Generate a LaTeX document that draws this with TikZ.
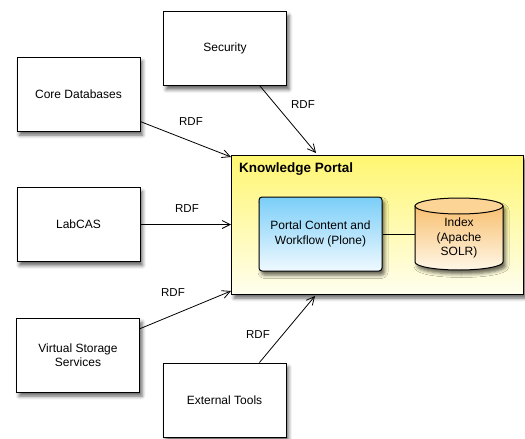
\documentclass[tikz,border=0pt]{standalone}
\usepackage{fontspec}
\setmainfont{Liberation Sans}
\usetikzlibrary{arrows.meta,shadows.blur}

\definecolor{portalhi}{RGB}{255,246,112}
\definecolor{portallo}{RGB}{255,254,238}
\definecolor{plonehi}{RGB}{122,206,248}
\definecolor{plonelo}{RGB}{240,249,255}
\definecolor{indexhi}{RGB}{248,192,112}
\definecolor{indexlo}{RGB}{255,247,232}
\definecolor{indexcap}{RGB}{251,212,150}

\tikzset{
  lbl/.style={font=\fontsize{12}{14.5}\selectfont, align=center},
  rdf/.style={font=\fontsize{11.5}{13}\selectfont, inner sep=0pt},
  dropshadow/.style={blur shadow={shadow xshift=2.5pt, shadow yshift=-4pt,
      shadow blur radius=3.5pt, shadow opacity=60}},
  sysbox/.style={draw=black, line width=1pt, fill=white, lbl,
      minimum width=123pt, minimum height=74pt, inner sep=0pt, dropshadow},
  feed/.style={draw=black, line width=0.8pt,
      -{Straight Barb[length=8pt, width=8pt, line width=0.8pt]}},
  % vertical gradient: first colour at the upper edge, second at the lower
  vgrad/.style 2 args={top color=#1, bottom color=#2},
}

\begin{document}
\begin{tikzpicture}[x=1pt, y=1pt]
\useasboundingbox (0,0) rectangle (525,-439);

% portal container: shadow first, then the shaded frame
\path[dropshadow] (231.5,-155) rectangle (523.5,-294);
\node[draw=black, line width=1pt, minimum width=292pt, minimum height=139pt,
      inner sep=0pt, vgrad={portalhi}{portallo}]
      (kp) at (377.5,-224.5) {};
\node[anchor=west, font=\fontsize{13.5}{15}\selectfont\bfseries, inner sep=0pt]
      (kptitle) at (239,-169) {Knowledge Portal};

% outer systems
\node[sysbox] (sec)  at (225,-48.5)  {Security};
\node[sysbox] (core) at (78.5,-94)   {Core Databases};
\node[sysbox] (lab)  at (78.5,-224.5){LabCAS};
\node[sysbox] (vss)  at (78,-355)    {Virtual Storage\\Services};
\node[sysbox] (ext)  at (224.5,-400) {External Tools};

% content management block
\path[dropshadow, rounded corners=3pt] (259,-197) rectangle (382,-271);
\node[draw=black, line width=1pt, rounded corners=3pt, lbl,
      minimum width=123pt, minimum height=74pt, inner sep=0pt,
      vgrad={plonehi}{plonelo}]
      (plone) at (320.5,-234) {Portal Content and\\Workflow (Plone)};

% search index cylinder
\path[dropshadow]
  (415,-206) -- (415,-262) arc[start angle=180, end angle=360, x radius=44pt, y radius=8pt]
  -- (503,-206) arc[start angle=0, end angle=180, x radius=44pt, y radius=8pt] -- cycle;
\shade[draw=black, line width=1pt, vgrad={indexhi}{indexlo}]
  (415,-206) -- (415,-262) arc[start angle=180, end angle=360, x radius=44pt, y radius=8pt]
  -- (503,-206) -- cycle;
\draw[line width=1pt, fill=indexcap]
  (459,-206) ellipse [x radius=44pt, y radius=8pt];
\node[lbl, inner sep=0pt] (idx) at (459,-238) {Index\\(Apache\\SOLR)};
\coordinate (idxw) at (415,-234);

\draw[line width=0.8pt] (plone.east) -- (idxw);

% arrow end points on the portal border
\coordinate (kpA) at (231,-157);
\coordinate (kpB) at (316,-153);
\coordinate (kpC) at (231,-224.5);
\coordinate (kpD) at (231,-291);
\coordinate (kpE) at (315,-296);

\draw[feed] (core.-24.5) -- (kpA);
\draw[feed] (sec.-47.9)  -- (kpB);
\draw[feed] (lab.east)   -- (kpC);
\draw[feed] (vss.23.5)   -- (kpD);
\draw[feed] (ext.47.8)   -- (kpE);

% link labels
\node[rdf] (r1) at (191,-122) {RDF};
\node[rdf] (r2) at (303,-105) {RDF};
\node[rdf] (r3) at (187,-209) {RDF};
\node[rdf] (r4) at (173,-293) {RDF};
\node[rdf] (r5) at (258,-335) {RDF};
\end{tikzpicture}
\end{document}
